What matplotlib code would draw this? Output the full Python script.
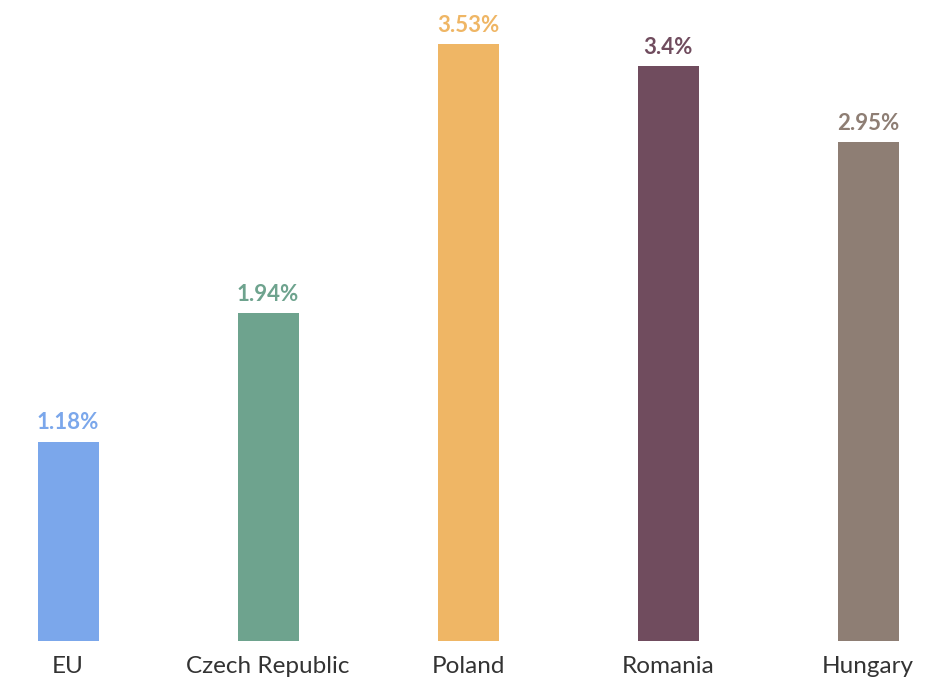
import matplotlib

matplotlib.use("Agg")
import matplotlib.pyplot as plt  # noqa: E402

# Values.
COUNTRIES = ["EU", "Czech Republic", "Poland", "Romania", "Hungary"]
VALUES = [1.18, 1.94, 3.53, 3.4, 2.95]
LABELS = ["1.18%", "1.94%", "3.53%", "3.4%", "2.95%"]
COLORS = ["#7ba7eb", "#6ea38e", "#efb665", "#704c5e", "#8e7e74"]

plt.rcParams["font.family"] = ["Lato", "DejaVu Sans"]

fig = plt.figure(figsize=(9.38, 6.79), dpi=100)
ax = fig.add_axes([0, 38 / 679, 1, 641 / 679])

x = list(range(len(COUNTRIES)))
bars = ax.bar(x, VALUES, width=0.305, color=COLORS)
ax.set_xlim(-0.34, 4.35)
ax.set_ylim(0, 641 / 169)

for bar, label, color in zip(bars, LABELS, COLORS):
    ax.annotate(label, (bar.get_x() + bar.get_width() / 2, bar.get_height()),
                xytext=(0, 6), textcoords="offset points", ha="center",
                va="bottom", fontsize=16, fontweight="bold", color=color)

ax.set_xticks(x)
ax.set_xticklabels(COUNTRIES, fontsize=17.5, color="#333333")
ax.tick_params(axis="x", length=0, pad=11)
ax.set_yticks([])
for spine in ax.spines.values():
    spine.set_visible(False)

fig.savefig("out.png", dpi=100)
